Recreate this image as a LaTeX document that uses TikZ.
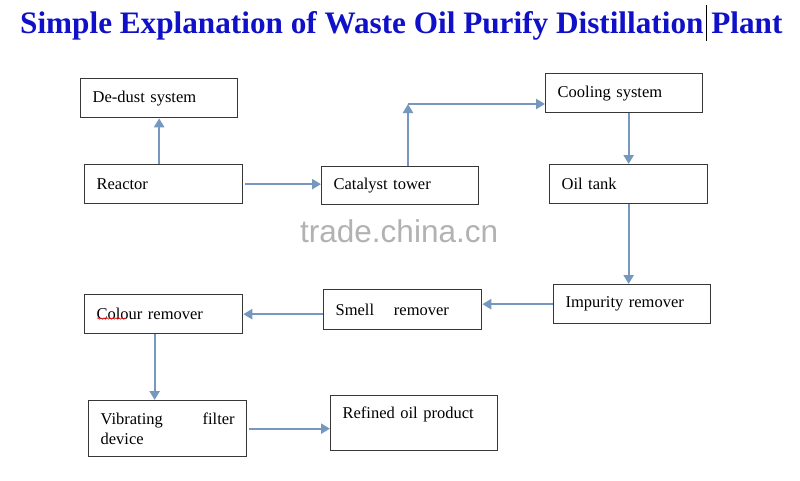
\documentclass[tikz,border=0pt]{standalone}
\usepackage{fontspec}
\setmainfont{Liberation Serif}
\newfontfamily\wmfont{Liberation Sans}
\usetikzlibrary{arrows.meta,calc,decorations.pathmorphing}
\definecolor{arrowblue}{RGB}{118,152,190}
\definecolor{titleblue}{RGB}{16,16,200}
\definecolor{boxline}{RGB}{55,55,55}
\begin{document}
\begin{tikzpicture}[x=1pt,y=-1pt,
  box/.style={draw=boxline, line width=1.3pt, anchor=north west, inner xsep=12pt, inner ysep=0pt,
    align=left, font=\fontsize{16.5}{20}\selectfont},
  arr/.style={draw=arrowblue, line width=2.3pt, -{Triangle[length=9pt,width=10pt]}}]
\useasboundingbox[fill=white] (0,0) rectangle (800,480);
% title
\node[anchor=base west, inner sep=0pt, text=titleblue] (title) at (20,33)
  {\resizebox{762pt}{22pt}{\bfseries Simple Explanation of Waste Oil Purify Distillation Plant}};
\coordinate (cur1) at (706,5);
\coordinate (cur2) at (706,41);
\draw[black, line width=0.8pt] (cur1) -- (cur2);
% watermark
\node[anchor=base west, inner sep=0pt, text=black!30, font=\wmfont\fontsize{31.5}{31}\selectfont] (wm) at (300,242) {trade.china.cn};
% boxes
\node[box, minimum width=157pt, text width=133pt, minimum height=39pt] (dedust) at (80,78) {De-dust system};
\node[box, minimum width=158pt, text width=134pt, minimum height=39pt] (reactor) at (84,164) {Reactor};
\node[box, minimum width=157pt, text width=133pt, minimum height=38pt] (catalyst) at (321,166) {Catalyst tower};
\node[box, minimum width=157pt, text width=133pt, minimum height=39pt] (cooling) at (545,73) {Cooling system};
\node[box, minimum width=158pt, text width=134pt, minimum height=39pt] (oiltank) at (549,164) {Oil tank};
\node[box, minimum width=157pt, text width=133pt, minimum height=39pt] (impurity) at (553,284) {Impurity remover};
\node[box, minimum width=158pt, text width=134pt, minimum height=40pt] (smell) at (323,289) {Smell\hspace{1.2em}remover};
\node[box, minimum width=158pt, text width=134pt, minimum height=39pt] (colour) at (84,294) {Colour remover};
\node[box, minimum width=158pt, text width=134pt, minimum height=56pt] (vib) at (88,400) {Vibrating\hfill filter\\device};
\node[box, minimum width=167pt, text width=143pt, minimum height=55pt] (refined) at (330,395) {Refined oil product\\\mbox{}};
% spell-check squiggle
\coordinate (sq1) at (97,318.5);
\coordinate (sq2) at (126,318.5);
\draw[red, line width=0.5pt, decorate, decoration={snake, amplitude=0.8pt, segment length=3pt}] (sq1) -- (sq2);
% connectors
\draw[arr] (reactor.north -| dedust.south) -- (dedust.south);
\draw[arr, shorten <=2pt] (reactor.east) -- (reactor.east -| catalyst.west);
\coordinate (c1) at (408,104);
\draw[arr] (catalyst.north -| c1) -- (c1);
\draw[arr] (c1) -- (c1 -| cooling.west);
\draw[arr] (cooling.south -| oiltank.north) -- (oiltank.north);
\draw[arr] (oiltank.south) -- (impurity.north -| oiltank.south);
\draw[arr] (impurity.west) -- (impurity.west -| smell.east);
\draw[arr] (smell.west |- colour.east) -- (colour.east);
\draw[arr] ($(colour.south)+(-9,0)$) -- ($(colour.south |- vib.north)+(-9,0)$);
\draw[arr, shorten <=2pt] (vib.east) -- (vib.east -| refined.west);
\end{tikzpicture}
\end{document}
